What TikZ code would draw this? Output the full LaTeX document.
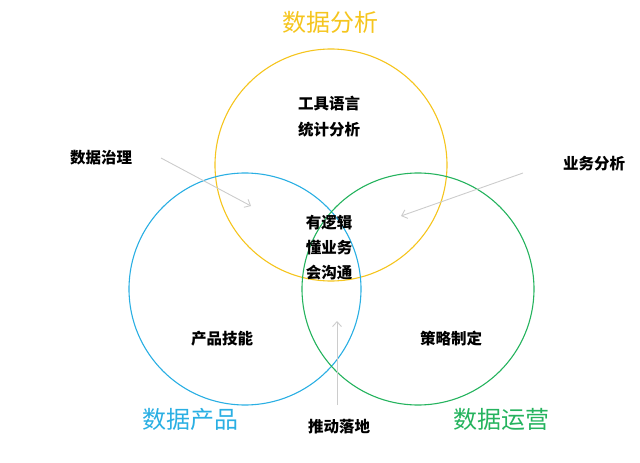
\documentclass[tikz,border=0pt]{standalone}
\usepackage{fontspec}
\setmainfont{Noto Sans CJK SC}
\usetikzlibrary{arrows.meta}
\definecolor{anayellow}{HTML}{F5C51E}
\definecolor{prodblue}{HTML}{2AAFE3}
\definecolor{opsgreen}{HTML}{25B35E}

\begin{document}
\begin{tikzpicture}[x=1pt,y=-1pt,
    ring/.style={line width=1.1pt},
    tag/.style={font=\fontsize{15.5}{15.5}\selectfont\bfseries},
    title/.style={font=\fontsize{24}{24}\selectfont},
    hint/.style={draw=black!20, line width=0.9pt, -{Straight Barb[length=5pt,width=9pt]}}]
        \useasboundingbox (0,0) rectangle (640,463);

        \coordinate (Ana) at (331,165);
        \coordinate (Prod) at (245,289);
        \coordinate (Ops) at (418,289);

        \draw[ring, anayellow] (Ana) circle [radius=116pt];
        \draw[ring, prodblue] (Prod) circle [radius=116pt];
        \draw[ring, opsgreen] (Ops) circle [radius=116pt];

        \node[title, text=anayellow] at (330,22) (tA) {数据分析};
        \node[title, text=prodblue] at (190,419) (tP) {数据产品};
        \node[title, text=opsgreen] at (501,419) (tO) {数据运营};

        \node[tag] at (329,104) (tool) {工具语言};
        \node[tag] at (329,130) (stat) {统计分析};
        \node[tag] at (329,223) (logic) {有逻辑};
        \node[tag] at (329,248) (biz) {懂业务};
        \node[tag] at (329,273) (talk) {会沟通};
        \node[tag] at (222,339) (pskill) {产品技能};
        \node[tag] at (451,339) (plan) {策略制定};
        \node[tag] at (101,158) (gov) {数据治理};
        \node[tag] at (594,164) (bana) {业务分析};
        \node[tag] at (339,427) (push) {推动落地};

        \coordinate (govS) at (161,158);
        \coordinate (govE) at (251,206);
        \coordinate (banaS) at (523,173);
        \coordinate (banaE) at (401,216);
        \coordinate (pushS) at (337,405);
        \coordinate (pushE) at (337,321);

        \draw[hint] (govS) -- (govE);
        \draw[hint] (banaS) -- (banaE);
        \draw[hint] (pushS) -- (pushE);

    \end{tikzpicture}
\end{document}
